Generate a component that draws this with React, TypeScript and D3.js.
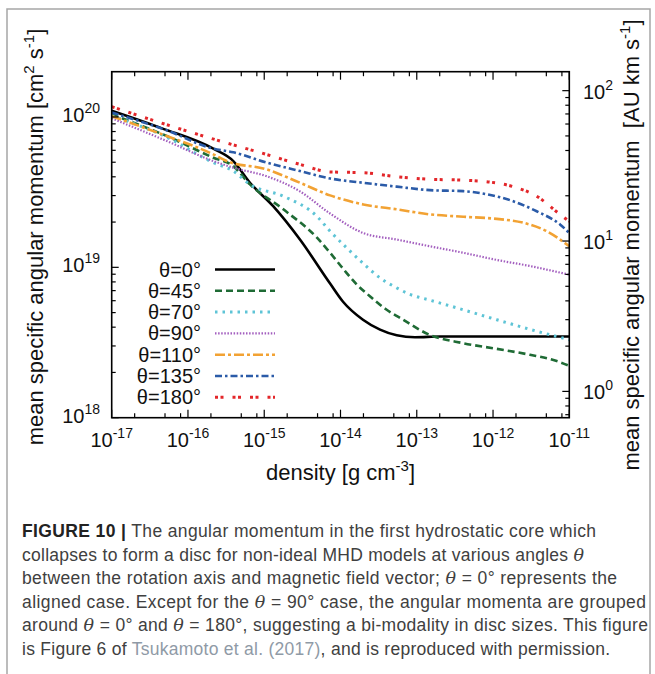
import React from "react";
import * as d3 from "d3";

// ---------- data (density [g cm^-3], mean specific angular momentum [cm^2 s^-1]) ----------
const densityTicks = [1e-17, 1e-16, 1e-15, 1e-14, 1e-13, 1e-12, 1e-11];
const densityExponents = ["-17", "-16", "-15", "-14", "-13", "-12", "-11"];
const leftTicks = [1e18, 1e19, 1e20];
const leftExponents = ["18", "19", "20"];
const rightTicks = [1, 10, 100];
const rightExponents = ["0", "1", "2"];
const legendLabels = ["θ=0°", "θ=45°", "θ=70°", "θ=90°", "θ=110°", "θ=135°", "θ=180°"];

const theta0: [number, number][] = [
  [1e-17, 1.1e20], [4.57e-17, 8.4e19], [2.15e-16, 6.15e19], [3.93e-16, 5.09e19],
  [6.5e-16, 3.65e19], [1.31e-15, 2.55e19], [2.94e-15, 1.53e19], [7.3e-15, 7.8e18],
  [1.08e-14, 5.9e18], [1.97e-14, 4.48e18], [3.3e-14, 3.85e18], [5.46e-14, 3.53e18],
  [9.48e-14, 3.43e18], [2.02e-13, 3.47e18], [1e-11, 3.47e18],
];
const theta45: [number, number][] = [
  [1e-17, 1.04e20], [5.26e-17, 7.47e19], [2.15e-16, 5.36e19], [3.93e-16, 4.71e19],
  [6.5e-16, 3.56e19], [1.78e-15, 2.43e19], [4.88e-15, 1.58e19], [7.3e-15, 1.25e19],
  [1.08e-14, 9.8e18], [1.63e-14, 7.7e18], [2.45e-14, 6.4e18], [3.86e-14, 5.3e18],
  [6.1e-14, 4.6e18], [1.49e-13, 3.55e18], [4.07e-13, 3.13e18], [1.12e-12, 2.87e18],
  [3.05e-12, 2.62e18], [6.68e-12, 2.39e18], [1e-11, 2.21e18],
];
const theta70: [number, number][] = [
  [1e-17, 1.02e20], [5.26e-17, 7.33e19], [2.15e-16, 4.97e19], [3.93e-16, 4.37e19],
  [6.5e-16, 3.56e19], [1.78e-15, 2.97e19], [4.88e-15, 2.19e19], [7.3e-15, 1.74e19],
  [1.2e-14, 1.35e19], [1.99e-14, 1.06e19], [3.3e-14, 8.5e18], [5.2e-14, 7.4e18],
  [8.2e-14, 6.6e18], [1.49e-13, 6.05e18], [4.07e-13, 5.22e18], [1.12e-12, 4.48e18],
  [3.05e-12, 3.87e18], [1e-11, 3.3e18],
];
const theta90: [number, number][] = [
  [1e-17, 9.8e19], [5.26e-17, 6.92e19], [2.15e-16, 5.09e19], [3.93e-16, 4.6e19],
  [1.08e-15, 4.03e19], [2.94e-15, 3.2e19], [7.3e-15, 2.28e19], [1.99e-14, 1.69e19],
  [5.46e-14, 1.53e19], [1.49e-13, 1.38e19], [4.07e-13, 1.25e19], [1.12e-12, 1.12e19],
  [3.05e-12, 1.02e19], [1e-11, 8.93e18],
];
const theta110: [number, number][] = [
  [1e-17, 1.01e20], [5.26e-17, 7.47e19], [2.15e-16, 5.64e19], [3.22e-16, 5.09e19],
  [1.08e-15, 4.48e19], [2.94e-15, 3.65e19], [7.3e-15, 3.01e19], [1.99e-14, 2.62e19],
  [5.46e-14, 2.43e19], [1.49e-13, 2.25e19], [4.07e-13, 2.17e19], [1.12e-12, 2.1e19],
  [2.49e-12, 1.98e19], [5.05e-12, 1.74e19], [1e-11, 1.38e19],
];
const theta135: [number, number][] = [
  [1e-17, 1.07e20], [5.26e-17, 8.15e19], [2.15e-16, 6.15e19], [3.93e-16, 5.82e19],
  [1.08e-15, 4.97e19], [2.94e-15, 4.37e19], [7.3e-15, 3.9e19], [1.99e-14, 3.65e19],
  [5.46e-14, 3.44e19], [1.49e-13, 3.26e19], [4.07e-13, 3.21e19], [8.26e-13, 3.06e19],
  [1.84e-12, 2.75e19], [3.73e-12, 2.36e19], [7.55e-12, 1.93e19], [1e-11, 1.69e19],
];
const theta180: [number, number][] = [
  [1e-17, 1.17e20], [9.6e-17, 8.07e19], [2.63e-16, 6.92e19], [8.79e-16, 5.8e19],
  [2.94e-15, 4.84e19], [7.3e-15, 4.31e19], [1.99e-14, 4.26e19], [5.46e-14, 4.01e19],
  [1.49e-13, 3.85e19], [4.07e-13, 3.8e19], [9.12e-13, 3.69e19], [1.84e-12, 3.44e19],
  [3.73e-12, 2.97e19], [7.55e-12, 2.25e19], [1e-11, 2.02e19],
];

const seriesData = [theta0, theta45, theta70, theta90, theta110, theta135, theta180];

// ---------- styles ----------
const seriesStyles = [
  { color: "#000000", dash: "none", width: 2.6 },
  { color: "#1f6b35", dash: "7 4", width: 2.6 },
  { color: "#5ec4d6", dash: "2.5 5", width: 3 },
  { color: "#a35fbf", dash: "1.5 1.6", width: 2.2 },
  { color: "#f2a233", dash: "10 3 3 3", width: 2.6 },
  { color: "#2b5ba8", dash: "7 3 2.5 3", width: 2.6 },
  { color: "#e3262a", dash: "3 2.5 3 9", width: 3 },
];

const AU_KM_S = 1.496e18; // cm^2 s^-1 per AU km s^-1
const FONT = "'Liberation Sans', Arial, Helvetica, sans-serif";
const X0 = 111.7, X1 = 569.3, Y0 = 71.7, Y1 = 417.7;

export default function App() {
  const x = d3.scaleLog().domain([1e-17, 1e-11]).range([X0, X1]);
  const y = d3.scaleLog().domain([1e18, 2e20]).range([Y1, Y0]);
  const yR = d3.scaleLog().domain([1e18 / AU_KM_S, 2e20 / AU_KM_S]).range([Y1, Y0]);
  const line = d3
    .line<[number, number]>()
    .x((d) => x(d[0]))
    .y((d) => y(d[1]))
    .curve(d3.curveMonotoneX);

  const xMinor: number[] = [];
  for (let e = -17; e < -11; e++) for (const m of [2, 5, 8]) xMinor.push(m * Math.pow(10, e));
  const yMinor: number[] = [];
  for (let e = 18; e <= 20; e++) for (let m = 2; m <= 9; m++) {
    const v = m * Math.pow(10, e);
    if (v < 2e20) yMinor.push(v);
  }
  const rMinor: number[] = [];
  for (let e = -1; e <= 2; e++) for (let m = 2; m <= 9; m++) {
    const v = m * Math.pow(10, e);
    const [lo, hi] = yR.domain();
    if (v > lo && v < hi) rMinor.push(v);
  }

  const legendY0 = 269.5, legendDy = 21.3;

  const capY0 = 537, capDy = 23.6;
  const th = (
    <tspan fontFamily="'DejaVu Serif', 'Liberation Serif', serif" fontStyle="italic">θ</tspan>
  );
  const capColor = "#404040";

  return (
    <svg
      width={655}
      height={674}
      style={{ position: "absolute", left: 0, top: 0, background: "#fff" }}
      fontFamily={FONT}
    >
      <rect x={0} y={0} width={655} height={674} fill="#fff" />
      <rect x={7} y={9} width={643} height={700} fill="none" stroke="#a6a6a6" strokeWidth={1.5} />

      {/* curves */}
      <g fill="none">
        {seriesData.map((d, i) => (
          <path
            key={i}
            d={line(d) || ""}
            stroke={seriesStyles[i].color}
            strokeWidth={seriesStyles[i].width}
            strokeDasharray={seriesStyles[i].dash}
          />
        ))}
      </g>

      {/* ticks */}
      <g stroke="#000" strokeWidth={1.2}>
        {densityTicks.map((t, i) => (
          <g key={"xt" + i}>
            <line x1={x(t)} x2={x(t)} y1={Y1} y2={Y1 - 8} />
            <line x1={x(t)} x2={x(t)} y1={Y0} y2={Y0 + 8} />
          </g>
        ))}
        {xMinor.map((t, i) => (
          <g key={"xm" + i}>
            <line x1={x(t)} x2={x(t)} y1={Y1} y2={Y1 - 4.5} />
            <line x1={x(t)} x2={x(t)} y1={Y0} y2={Y0 + 4.5} />
          </g>
        ))}
        {leftTicks.map((t, i) => (
          <line key={"yt" + i} x1={X0} x2={X0 + 7} y1={y(t)} y2={y(t)} />
        ))}
        {yMinor.map((t, i) => (
          <line key={"ym" + i} x1={X0} x2={X0 + 4} y1={y(t)} y2={y(t)} />
        ))}
        {rightTicks.map((t, i) => (
          <line key={"rt" + i} x1={X1} x2={X1 - 7} y1={yR(t)} y2={yR(t)} />
        ))}
        {rMinor.map((t, i) => (
          <line key={"rm" + i} x1={X1} x2={X1 - 4} y1={yR(t)} y2={yR(t)} />
        ))}
      </g>
      <rect x={X0} y={Y0} width={X1 - X0} height={Y1 - Y0} fill="none" stroke="#000" strokeWidth={1.6} />

      {/* tick labels */}
      <g fill="#111" fontSize={20}>
        {densityTicks.map((t, i) => (
          <text key={"xl" + i} x={x(t)} y={447} textAnchor="middle">
            10<tspan dy={-9} fontSize={14}>{densityExponents[i]}</tspan>
          </text>
        ))}
        {leftTicks.map((t, i) => (
          <text key={"yl" + i} x={100} y={y(t) + 5} textAnchor="end">
            10<tspan dy={-9} fontSize={14}>{leftExponents[i]}</tspan>
          </text>
        ))}
        {rightTicks.map((t, i) => (
          <text key={"rl" + i} x={583} y={yR(t) + 8} textAnchor="start">
            10<tspan dy={-9} fontSize={14}>{rightExponents[i]}</tspan>
          </text>
        ))}
      </g>

      {/* axis titles */}
      <g fill="#111" fontSize={22}>
        <text x={(X0 + X1) / 2} y={480} textAnchor="middle">
          density [g cm<tspan dy={-9} fontSize={15}>-3</tspan><tspan dy={9}>]</tspan>
        </text>
        <text transform="translate(43,237) rotate(-90)" textAnchor="middle">
          mean specific angular momentum [cm<tspan dy={-9} fontSize={15}>2</tspan>
          <tspan dy={9}> s</tspan><tspan dy={-9} fontSize={15}>-1</tspan><tspan dy={9}>]</tspan>
        </text>
        <text
          transform="translate(639,245) rotate(-90)"
          textAnchor="middle"
          style={{ whiteSpace: "pre" }}
        >
          {"mean specific angular momentum  [AU km s"}
          <tspan dy={-9} fontSize={15}>-1</tspan>
          <tspan dy={9}>]</tspan>
        </text>
      </g>

      {/* legend */}
      <g>
        {legendLabels.map((lab, i) => {
          const ly = legendY0 + i * legendDy;
          const st = seriesStyles[i];
          return (
            <g key={"lg" + i}>
              <text x={201} y={ly + 7} textAnchor="end" fontSize={20} fill="#111">
                {lab}
              </text>
              <line
                x1={215}
                x2={275}
                y1={ly}
                y2={ly}
                stroke={st.color}
                strokeWidth={st.width}
                strokeDasharray={st.dash}
              />
            </g>
          );
        })}
      </g>

      {/* caption */}
      <g fontSize={17.5} fill={capColor}>
        <text x={22} y={capY0} textLength={574} lengthAdjust="spacing">
          <tspan fontWeight="bold" fill="#222">FIGURE 10 |</tspan>
          {" The angular momentum in the first hydrostatic core which"}
        </text>
        <text x={22} y={capY0 + capDy} textLength={562} lengthAdjust="spacing">
          {"collapses to form a disc for non-ideal MHD models at various angles "}
          {th}
        </text>
        <text x={22} y={capY0 + 2 * capDy} textLength={595} lengthAdjust="spacing">
          {"between the rotation axis and magnetic field vector; "}
          {th}
          {" = 0° represents the"}
        </text>
        <text x={22} y={capY0 + 3 * capDy} textLength={624} lengthAdjust="spacing">
          {"aligned case. Except for the "}
          {th}
          {" = 90° case, the angular momenta are grouped"}
        </text>
        <text x={22} y={capY0 + 4 * capDy} textLength={626} lengthAdjust="spacing">
          {"around "}
          {th}
          {" = 0° and "}
          {th}
          {" = 180°, suggesting a bi-modality in disc sizes. This figure"}
        </text>
        <text x={22} y={capY0 + 5 * capDy} textLength={588} lengthAdjust="spacing">
          {"is Figure 6 of "}
          <tspan fill="#8f9aa6">Tsukamoto et al. (2017)</tspan>
          {", and is reproduced with permission."}
        </text>
      </g>
    </svg>
  );
}
